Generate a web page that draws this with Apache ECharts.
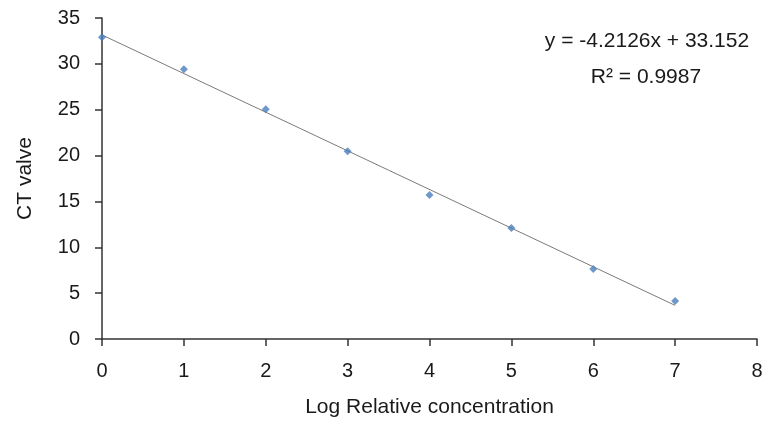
<!DOCTYPE html>
<html><head><meta charset="utf-8">
<script src="https://cdn.jsdelivr.net/npm/echarts@6/dist/echarts.min.js"></script>
<style>html,body{margin:0;padding:0;background:#fff}#c{width:768px;height:427px}</style>
</head><body><div id="c"></div>
<script>
var logConc = [0, 1, 2, 3, 4, 5, 6, 7];
var ctValues = [32.9, 29.4, 25.05, 20.47, 15.7, 12.1, 7.63, 4.14];
var trendX = [0, 7];
var trendY = [33.152, 3.664];
var equationText = 'y = -4.2126x + 33.152';
var r2Text = 'R² = 0.9987';
var xTitle = 'Log Relative concentration';
var yTitle = 'CT valve';

var font = '"Liberation Sans", Arial, sans-serif';
var chart = echarts.init(document.getElementById('c'));
chart.setOption({
  animation: false,
  grid: {left: 102, right: 11, top: 18, bottom: 88},
  xAxis: {
    type: 'value', min: 0, max: 8, interval: 1,
    name: xTitle, nameLocation: 'middle', nameGap: 58,
    nameTextStyle: {fontFamily: font, fontSize: 21, color: '#1a1a1a'},
    axisLine: {show: true, onZero: false, lineStyle: {color: '#333', width: 1.5}},
    axisTick: {show: true, length: 7, lineStyle: {color: '#333', width: 1.5}},
    axisLabel: {fontFamily: font, fontSize: 20, color: '#1a1a1a', margin: 22},
    splitLine: {show: false}
  },
  yAxis: {
    type: 'value', min: 0, max: 35, interval: 5,
    name: yTitle, nameLocation: 'middle', nameGap: 66, nameRotate: 90,
    nameTextStyle: {fontFamily: font, fontSize: 21, color: '#1a1a1a'},
    axisLine: {show: true, lineStyle: {color: '#333', width: 1.5}},
    axisTick: {show: true, length: 7, lineStyle: {color: '#333', width: 1.5}},
    axisLabel: {fontFamily: font, fontSize: 20, color: '#1a1a1a', margin: 22},
    splitLine: {show: false}
  },
  series: [
    {
      type: 'line', data: trendX.map(function(x, i){return [x, trendY[i]];}),
      showSymbol: false, symbol: 'none',
      lineStyle: {color: '#7a7a7a', width: 1}, z: 2
    },
    {
      type: 'scatter', data: logConc.map(function(x, i){return [x, ctValues[i]];}),
      symbol: 'diamond', symbolSize: 8,
      itemStyle: {color: '#4a7ebb'}, z: 3
    }
  ],
  graphic: [
    {type: 'text', style: {text: equationText, x: 647, y: 41, align: 'center', verticalAlign: 'middle', font: '21px ' + font, fill: '#1a1a1a'}},
    {type: 'text', style: {text: r2Text, x: 646, y: 77, align: 'center', verticalAlign: 'middle', font: '21px ' + font, fill: '#1a1a1a'}}
  ]
});
</script></body></html>
